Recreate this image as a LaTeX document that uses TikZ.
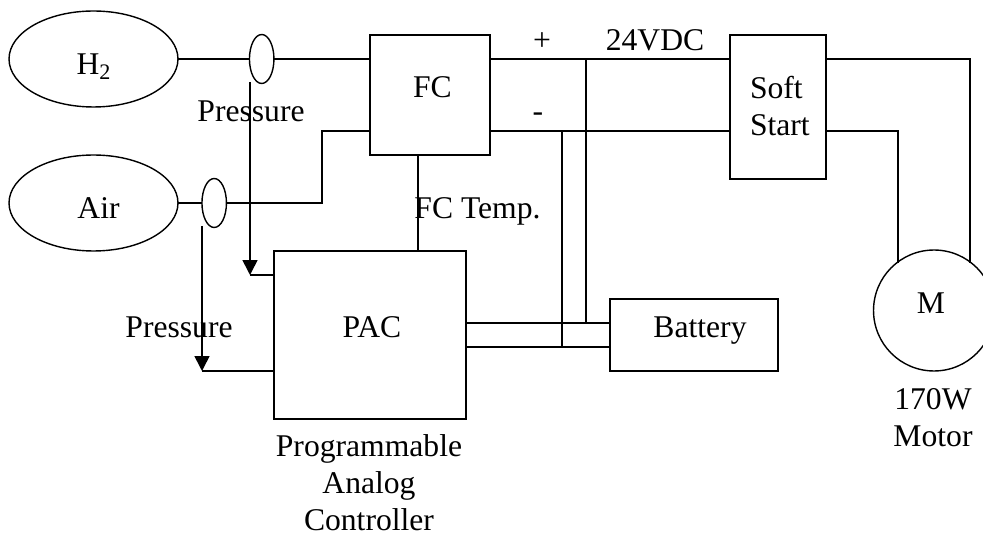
\documentclass[tikz,border=0pt]{standalone}
\usepackage{fontspec}
\setmainfont{Liberation Serif}
\usetikzlibrary{shapes.geometric,arrows.meta}
\tikzset{
  every node/.style={inner sep=0pt,outer sep=0pt},
  lbl/.style={font=\fontsize{18}{21}\selectfont,align=center,anchor=base},
  wire/.style={line width=0.95pt},
  box/.style={draw,line width=0.95pt,rectangle},
  tank/.style={draw,line width=0.8pt,ellipse,minimum width=3.38cm,minimum height=1.92cm},
  sensor/.style={draw,line width=0.8pt,ellipse,minimum width=0.49cm,minimum height=0.98cm},
  tip/.style={-{Triangle[length=0.3cm,width=0.3cm]}}
}
\begin{document}
\begin{tikzpicture}[x=0.02cm,y=-0.02cm]
\useasboundingbox (0,0) rectangle (983,536);
% shapes
\node[tank] (htank) at (93.5,59) {};
\node[tank] (airtank) at (93.5,203) {};
\node[sensor] (hsens) at (261.7,59) {};
\node[sensor] (airsens) at (214.2,203) {};
\node[box,minimum width=2.4cm,minimum height=2.4cm] (fc) at (430,95) {};
\node[box,minimum width=1.92cm,minimum height=2.88cm] (soft) at (778,107) {};
\node[box,minimum width=3.84cm,minimum height=3.36cm] (pac) at (370,335) {};
\node[box,minimum width=3.36cm,minimum height=1.44cm] (batt) at (694,335) {};
\node[draw,line width=0.8pt,circle,minimum size=2.42cm] (motor) at (934,310.5) {};
% ports
\coordinate (fcH) at (370,59);
\coordinate (fcA) at (370,131);
\coordinate (fcP) at (490,59);
\coordinate (fcM) at (490,131);
\coordinate (softP) at (730,59);
\coordinate (softM) at (730,131);
\coordinate (softOutP) at (826,59);
\coordinate (softOutM) at (826,131);
\coordinate (airA) at (322,203);
\coordinate (airB) at (322,131);
\coordinate (plusT) at (586,59);
\coordinate (plusB) at (586,323);
\coordinate (minusT) at (562,131);
\coordinate (minusB) at (562,347);
\coordinate (pacA) at (466,323);
\coordinate (pacB) at (466,347);
\coordinate (battA) at (610,323);
\coordinate (battB) at (610,347);
\coordinate (motP) at (970,59);
\coordinate (motPb) at (970,263);
\coordinate (motM) at (898,131);
\coordinate (motMb) at (898,263);
\coordinate (fcT) at (418,155);
\coordinate (pacT) at (418,251);
\coordinate (hp0) at (250,82);
\coordinate (hp1) at (250,275);
\coordinate (hp2) at (274,275);
\coordinate (ap0) at (202,226);
\coordinate (ap1) at (202,371);
\coordinate (ap2) at (274,371);
% wires
\draw[wire] (htank) -- (hsens);
\draw[wire] (hsens) -- (fcH);
\draw[wire] (airtank) -- (airsens);
\draw[wire] (airsens) -- (airA) -- (airB) -- (fcA);
\draw[wire] (fcP) -- (softP);
\draw[wire] (fcM) -- (softM);
\draw[wire] (plusT) -- (plusB);
\draw[wire] (minusT) -- (minusB);
\draw[wire] (pacA) -- (battA);
\draw[wire] (pacB) -- (battB);
\draw[wire] (softOutP) -- (motP) -- (motPb);
\draw[wire] (softOutM) -- (motM) -- (motMb);
\draw[wire] (fcT) -- (pacT);
\draw[wire,tip] (hp0) -- (hp1);
\draw[wire] (hp1) -- (hp2);
\draw[wire,tip] (ap0) -- (ap1);
\draw[wire] (ap1) -- (ap2);
% text
\node[lbl] (hlbl) at (94,75) {H\textsubscript{2}};
\node[lbl] (airlbl) at (98.5,219) {Air};
\node[lbl] (fclbl) at (432.5,98) {FC};
\node[lbl] (plus) at (542,51) {+};
\node[lbl] (volt) at (655,51) {24VDC};
\node[lbl] (minus) at (538,122) {-};
\node[lbl,anchor=west,align=left,font=\fontsize{18}{21}\selectfont] (softlbl) at (750,106) {Soft\\Start};
\node[lbl] (press1) at (251,122) {Pressure};
\node[lbl] (temp) at (477.5,219) {FC Temp.};
\node[lbl] (paclbl) at (372,338) {PAC};
\node[lbl] (press2) at (179,338) {Pressure};
\node[lbl] (battlbl) at (700,338) {Battery};
\node[lbl] (mlbl) at (931,314) {M};
\node[lbl,anchor=center] (motlbl) at (933,418) {170W\\Motor};
\node[lbl,anchor=center] (prog) at (369,483) {Programmable\\Analog\\Controller};
\end{tikzpicture}
\end{document}
